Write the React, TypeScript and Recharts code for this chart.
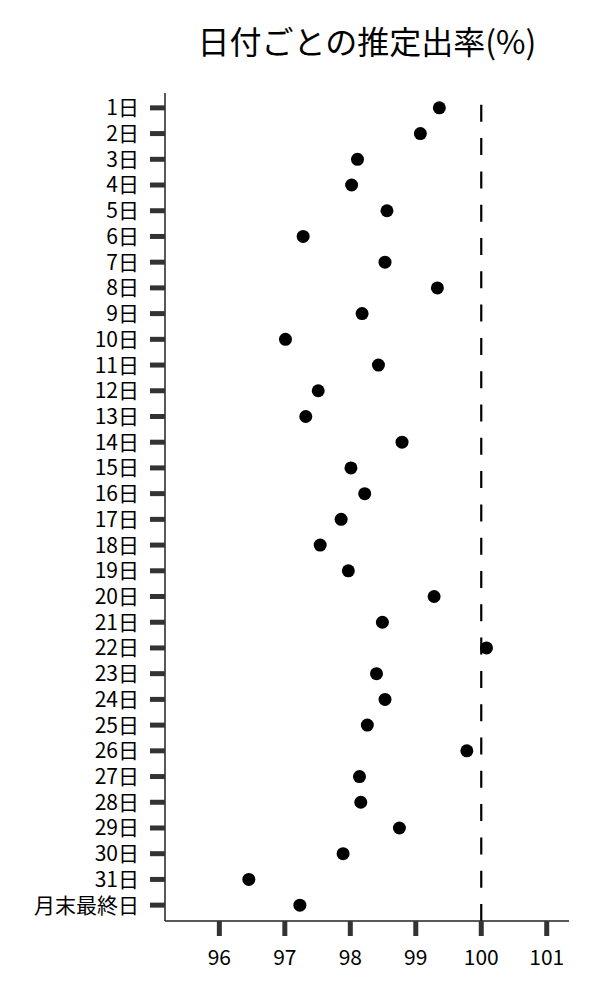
import React from 'react';
import { ScatterChart, Scatter, XAxis, YAxis, ReferenceLine } from 'recharts';

const days = [
  '1日', '2日', '3日', '4日', '5日', '6日', '7日', '8日', '9日', '10日',
  '11日', '12日', '13日', '14日', '15日', '16日', '17日', '18日', '19日', '20日',
  '21日', '22日', '23日', '24日', '25日', '26日', '27日', '28日', '29日', '30日',
  '31日', '月末最終日',
];
const rates = [
  99.36, 99.07, 98.11, 98.02, 98.56, 97.28, 98.53, 99.33, 98.18, 97.01,
  98.43, 97.51, 97.32, 98.79, 98.01, 98.22, 97.86, 97.54, 97.97, 99.28,
  98.49, 100.08, 98.4, 98.53, 98.26, 99.78, 98.14, 98.16, 98.75, 97.89,
  96.45, 97.23,
];
const xTicks = [96, 97, 98, 99, 100, 101];
const xDomain = [95.17, 101.34];
const referenceRate = 100;
const title = '日付ごとの推定出率(%)';

const data = days.map((day, i) => ({ day, rate: rates[i] }));

const FONT = '"Noto Sans CJK JP", "Noto Sans", sans-serif';

const Dot = (props: any) => {
  const { cx, cy } = props;
  if (cx == null || cy == null) return null;
  return <circle cx={cx} cy={cy} r={6.5} fill="#000" />;
};

export default function App() {
  return (
    <div style={{ position: 'absolute', left: 0, top: 0, width: 600, height: 1000, background: '#fff' }}>
      <svg width={600} height={90} style={{ position: 'absolute', left: 0, top: 0 }}>
        <text x={367} y={54} textAnchor="middle" fontSize={32} fontFamily={FONT} fill="#000">
          {title}
        </text>
      </svg>
      <div style={{ position: 'absolute', left: 0, top: 0 }}>
        <ScatterChart width={600} height={1000} margin={{ top: 93, right: 31, left: 0, bottom: 0 }}>
          <XAxis
            type="number"
            dataKey="rate"
            domain={xDomain}
            ticks={xTicks}
            allowDataOverflow
            height={79}
            tickSize={15}
            tickMargin={14}
            axisLine={{ stroke: '#222', strokeWidth: 1.5 }}
            tickLine={{ stroke: '#333', strokeWidth: 5 }}
            tick={{ fill: '#000', fontSize: 21, fontFamily: FONT }}
          />
          <YAxis
            type="category"
            dataKey="day"
            reversed
            width={165}
            interval={0}
            padding={{ top: 2, bottom: 3 }}
            tickSize={15}
            tickMargin={11}
            axisLine={{ stroke: '#222', strokeWidth: 1.5 }}
            tickLine={{ stroke: '#333', strokeWidth: 5 }}
            tick={{ fill: '#000', fontSize: 21, fontFamily: FONT }}
          />
          <ReferenceLine
            x={referenceRate}
            stroke="#000"
            strokeWidth={2.2}
            strokeDasharray="17 16.3"
            strokeDashoffset={0}
          />
          <Scatter data={data} isAnimationActive={false} shape={Dot} />
        </ScatterChart>
      </div>
    </div>
  );
}
